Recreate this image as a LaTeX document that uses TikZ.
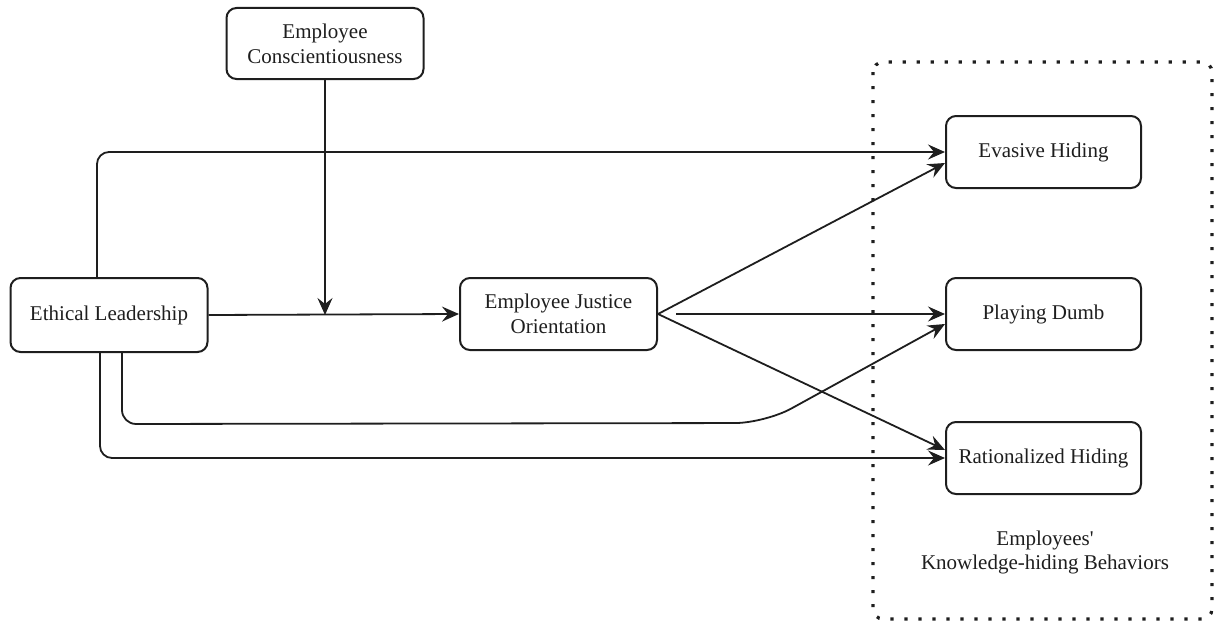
\documentclass[tikz,border=0pt]{standalone}
\usepackage{fontspec}
\setmainfont{Liberation Serif}
\usetikzlibrary{arrows.meta,calc}
\definecolor{ink}{HTML}{1E1E1E}
\begin{document}
\begin{tikzpicture}[x=1pt,y=1pt,
  box/.style={draw=ink, line width=2pt, rounded corners=10pt, align=center,
    text=ink, font=\fontsize{21}{25}\selectfont, minimum width=197pt, minimum height=72pt, inner sep=0pt},
  conn/.style={draw=ink, line width=1.8pt, -{Stealth[length=17pt,width=15pt,inset=6pt]}},
  dotbox/.style={draw=ink, line width=3.2pt, dash pattern=on 3.2pt off 10.8pt, rounded corners=10pt}]
\useasboundingbox (0,0) rectangle (1214,-626);
% dotted group
\draw[dotbox] (873,-62) rectangle (1212,-619);
\node[text=ink, align=center, font=\fontsize{21}{24}\selectfont] (lab) at (1045,-552) {Employees\textquotesingle\\Knowledge-hiding Behaviors};
% nodes
\node[box, minimum height=74pt] (el) at (109,-315) {Ethical Leadership};
\node[box, minimum height=71pt] (ec) at (325,-43.5) {Employee\\Conscientiousness};
\node[box] (ejo) at (558.5,-314) {Employee Justice\\Orientation};
\node[box, minimum width=195pt] (eh) at (1043.5,-152) {Evasive Hiding};
\node[box, minimum width=195pt] (pd) at (1043.5,-314) {Playing Dumb};
\node[box, minimum width=195pt] (rh) at (1043.5,-458) {Rationalized Hiding};
% connectors
\draw[conn, rounded corners=12pt] ($(el.north)+(-12,0)$) |- (eh.west);
\draw[conn] (el.east) -- (ejo.west);
\coordinate (mod) at (ec.south |- el.east);
\draw[conn] (ec.south) -- (mod);
\draw[conn] (ejo.east) -- ($(eh.west)+(0,-11)$);
\draw[conn] ($(ejo.east)+(18,0)$) -- (pd.west);
\draw[conn] (ejo.east) -- ($(rh.west)+(0,8)$);
\coordinate (bend) at (765,-423);
\draw[conn, rounded corners=14pt] ($(el.south)+(13,0)$) -- ($(el.south)+(13,0)+(0,-71)$) [rounded corners=30pt] -- (bend) -- ($(pd.west)+(0,-10)$);
\draw[conn, rounded corners=12pt] ($(el.south)+(-9,0)$) |- (rh.west);
\end{tikzpicture}
\end{document}
